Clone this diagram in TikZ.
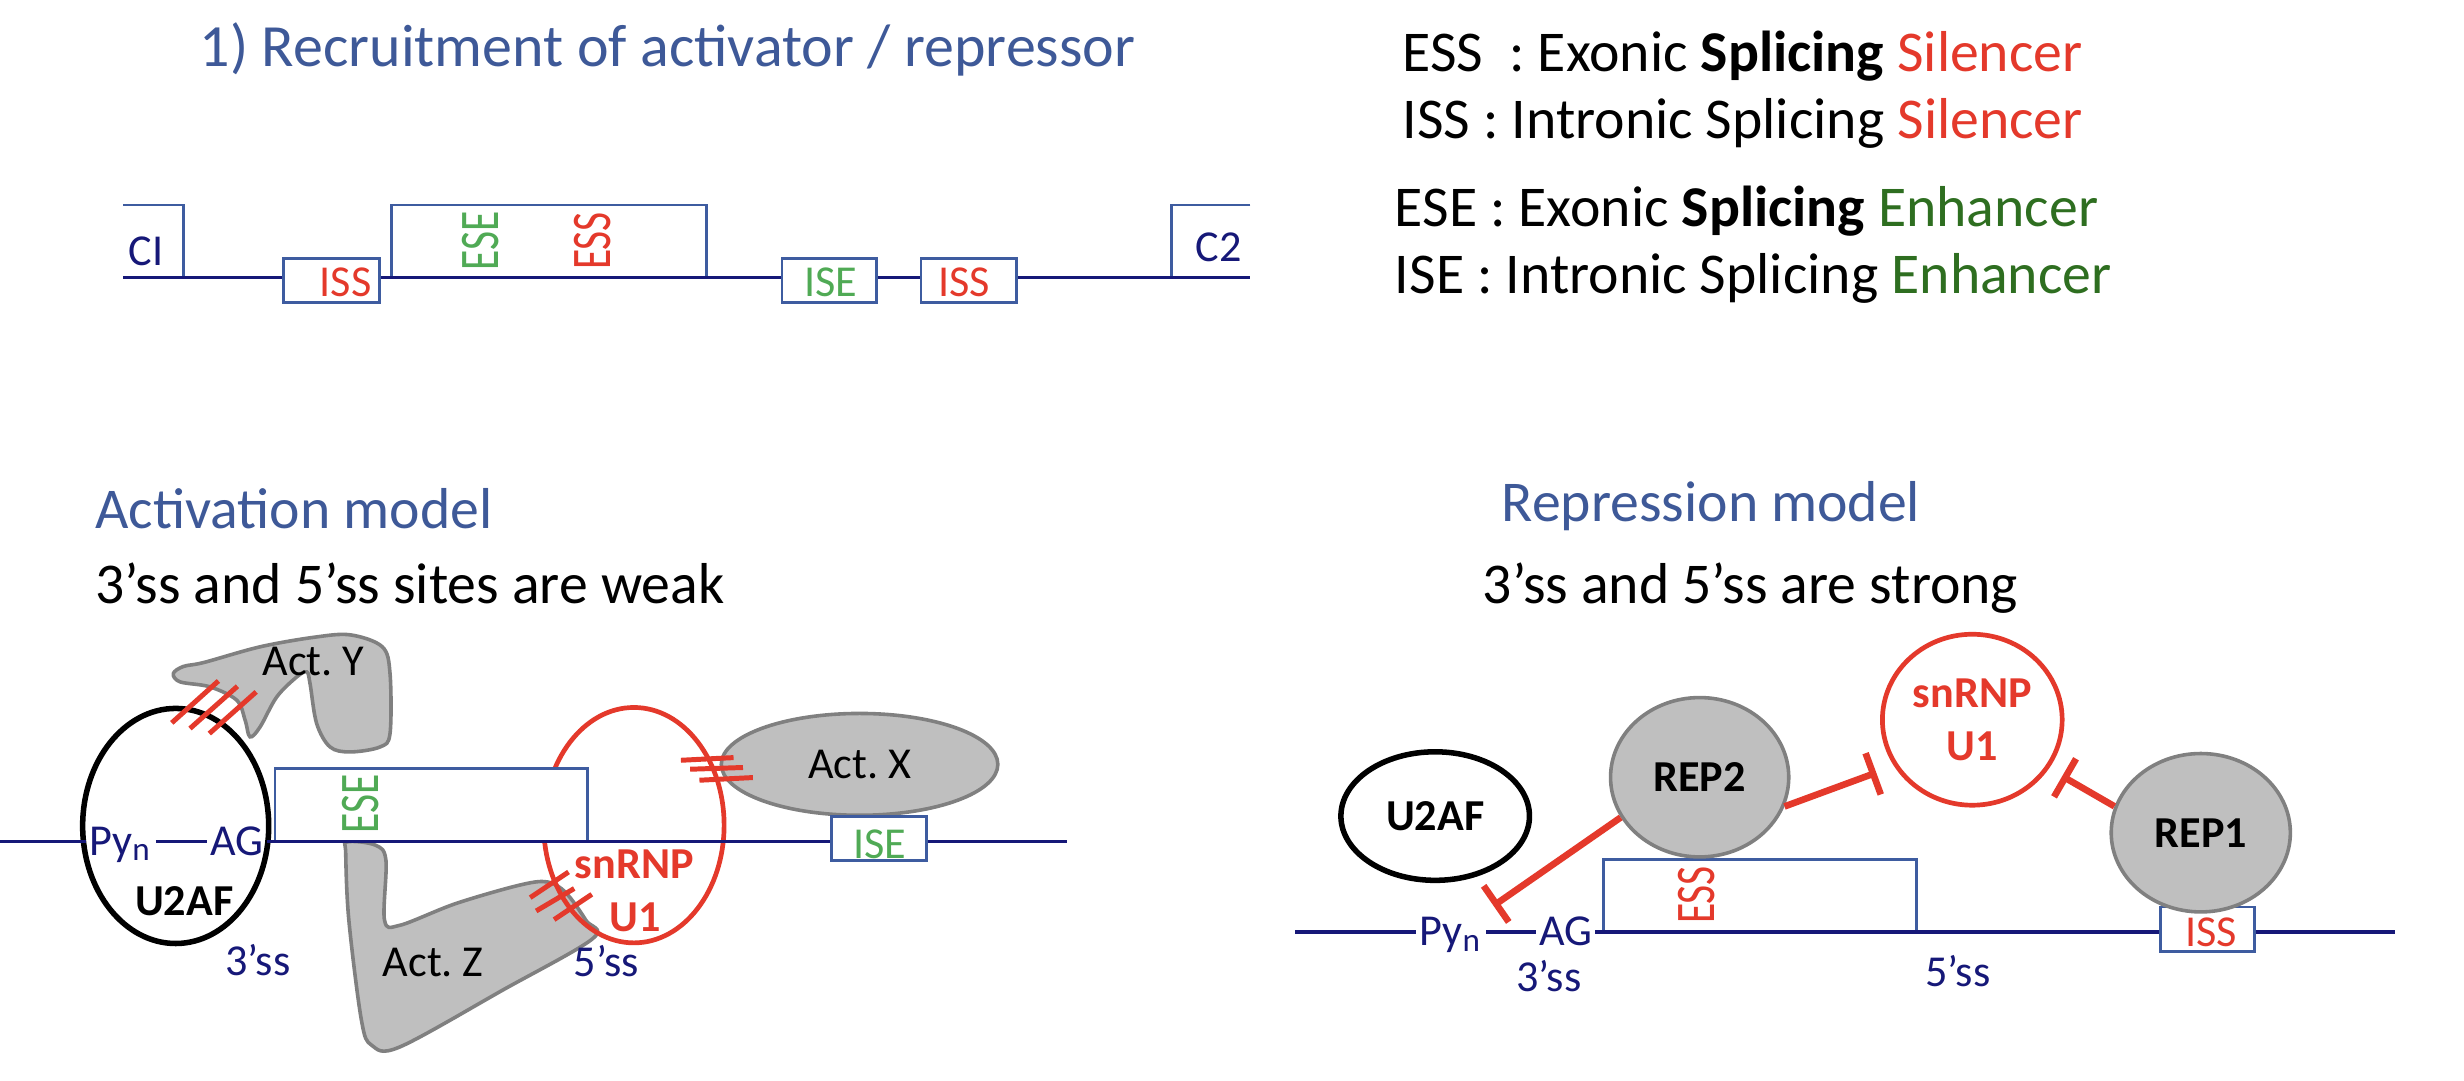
\documentclass[tikz,border=0pt]{standalone}
\usepackage{graphicx}
\usepackage{fontspec}
\setmainfont{Carlito}
\usetikzlibrary{shapes.geometric,arrows.meta}
\definecolor{hblue}{RGB}{62,89,152}
\definecolor{navy}{RGB}{22,24,120}
\definecolor{bxblue}{RGB}{62,92,160}
\definecolor{sred}{RGB}{228,57,43}
\definecolor{sgreen}{RGB}{80,170,85}
\definecolor{dgreen}{RGB}{46,110,32}
\definecolor{pgray}{RGB}{191,191,191}
\definecolor{egray}{RGB}{128,128,128}
\newcommand{\ttlsize}{\fontsize{10.85}{13}\selectfont}
\newcommand{\bigsize}{\fontsize{10.45}{12.5}\selectfont}
\newcommand{\smallsize}{\fontsize{8}{9.6}\selectfont}
\newcommand{\rotsize}{\fontsize{7.5}{9}\selectfont}
\newcommand{\tall}[1]{\scalebox{1}[1.35]{#1}}

\begin{document}
\begin{tikzpicture}[x=0.1mm,y=-0.1mm,
    big/.style={font=\bigsize,anchor=base west,inner sep=0pt},
    lbl/.style={font=\smallsize,anchor=base,inner sep=0pt},
    blbl/.style={font=\smallsize\bfseries,anchor=base,inner sep=0pt},
    vlbl/.style={font=\rotsize,rotate=90,anchor=base,inner sep=0pt},
    site/.style={font=\smallsize,text=navy,text height=5.06pt,text depth=0pt,inner sep=0.4pt},
    gene/.style={draw=navy,line width=0.6pt},
    bx/.style={draw=bxblue,fill=white,line width=0.5pt},
    bxl/.style={draw=bxblue,line width=0.5pt},
    prot/.style={ellipse,draw,inner sep=0pt,line width=1pt},
    act/.style={fill=pgray,draw=egray,line width=0.65pt},
    hash/.style={draw=sred,line width=0.9pt},
    inhib/.style={draw=sred,line width=1.2pt,-{Bar[width=2.8mm]}}]
  \fill[white] (0,0) rectangle (1568,687.3);
  \useasboundingbox (0,0) rectangle (1568,687.3);

  \node[big,font=\ttlsize,text=hblue] (ttl) at (126.5,42.4) {1) Recruitment of activator / repressor};
  \node[big] (lg1) at (891.9,45.6) {ESS\ \ : Exonic \textbf{Splicing} \textcolor{sred}{Silencer}};
  \node[big] (lg2) at (891.9,88) {ISS : Intronic Splicing \textcolor{sred}{Silencer}};
  \node[big] (lg3) at (887,144.3) {ESE : Exonic \textbf{Splicing} \textcolor{dgreen}{Enhancer}};
  \node[big] (lg4) at (887,186.7) {ISE : Intronic Splicing \textcolor{dgreen}{Enhancer}};

  \draw[bxl] (78.5,130.5) -- (116.7,130.5) -- (116.7,176.7);
  \draw[bxl] (795.7,130.5) -- (745.3,130.5) -- (745.3,176.7);
  \draw[bx] (249.3,130.5) rectangle (449.8,176.7);
  \coordinate (g0) at (78.5,176.7);
  \coordinate (g1) at (795.7,176.7);
  \draw[gene] (g0) -- (g1);
  \draw[bx] (180.3,164.4) rectangle (241.4,192.7);
  \draw[bx] (497.6,164.4) rectangle (558,192.7);
  \draw[bx] (586.1,164.4) rectangle (647.1,192.7);
  \node[lbl,text=navy] (c1) at (92.8,168.7) {CI};
  \node[lbl,text=navy] (c2) at (775.7,166.6) {C2};
  \node[lbl,text=sred] (iss1) at (220,188.8) {ISS};
  \node[lbl,text=sgreen] (ise1) at (528.6,188.8) {ISE};
  \node[lbl,text=sred] (iss2) at (613.5,188.8) {ISS};
  \node[vlbl,text=sgreen] (ese1) at (317.2,153.3) {\tall{ESE}};
  \node[vlbl,text=sred] (ess1) at (388.3,153.3) {\tall{ESS}};

  \node[big,text=hblue] (actm) at (60,336.3) {Activation model};
  \node[big] (actw) at (60,384) {3'ss and 5'ss sites are weak};
  \node[big,text=hblue] (repm) at (955,332) {Repression model};
  \node[big] (reps) at (943,384) {3'ss and 5'ss are strong};

  \draw[act] plot[smooth cycle,tension=0.55] coordinates {(110.3,428.6) (116.7,424.1) (130,421.5) (165.5,411.6) (200,405.5) (223,404) (243.3,411.6) (248.2,428.6) (248.2,466.8) (241.9,475.3) (222.8,478.5) (210,475.3) (201.5,460.4) (197.3,435) (195.2,427.6) (188.8,430.8) (176.1,443.5) (165.5,462.6) (159.1,468.9) (156,458.3) (150.7,445.6) (133.7,437.1) (114.6,433.9)};
  \draw[act] plot[smooth cycle,tension=0.55] coordinates {(221,535.7) (238.9,537.8) (245.6,547.4) (244.7,585.6) (254.5,588.8) (290,575) (330.4,563.3) (348.3,561.2) (360,568) (372.8,585.6) (377.3,597.2) (320,630) (254.5,666.2) (236.6,665.2) (230,649.2) (222,585.6) (220,543.1)};
  \node[prot,act,minimum width=17.6mm,minimum height=6.48mm,font=\smallsize] (actx) at (547,486.4) {Act.\ X};
  \node[prot,minimum width=11.84mm,minimum height=14.96mm] (u2a) at (111.8,525.6) {};
  \node[prot,draw=sred,line width=0.85pt,minimum width=11.48mm,minimum height=14.98mm] (snra) at (403.4,525.1) {};
  \draw[bx] (175,489) rectangle (373.7,535.3);
  \coordinate (a0) at (0,535.3);
  \coordinate (a1) at (678.7,535.3);
  \node[site] (pyna) at (77,535.3) {Py\textsubscript{n}};
  \node[site] (aga) at (150.7,535.3) {AG};
  \draw[gene] (a0) -- (pyna) -- (aga) -- (a1);
  \draw[bx] (529,519.4) rectangle (589.4,547.8);
  \node[lbl,text=sgreen] (ise2) at (560,546.3) {ISE};
  \node[vlbl,text=sgreen] (ese2) at (241.1,511.5) {\tall{ESE}};
  \node[blbl] (u2at) at (117.2,582.4) {U2AF};
  \node[lbl,text=navy] (ss3a) at (164,620.6) {3'ss};
  \node[lbl] (acty) at (199.5,429.7) {Act.\ Y};
  \node[lbl] (actz) at (275.7,621.6) {Act.\ Z};
  \node[blbl,text=sred] (snrt) at (403.6,559) {snRNP};
  \node[blbl,text=sred] (u1t) at (404,593) {U1};
  \node[lbl,text=navy] (ss5a) at (385.8,621.6) {5'ss};
  \draw[hash] (109.3,460) -- (139,433.3);
  \draw[hash] (120.9,463.6) -- (151.1,436.7);
  \draw[hash] (133.2,466.8) -- (163,440.3);
  \draw[hash] (433.3,483.8) -- (466.8,482.1);
  \draw[hash] (439.2,489.5) -- (472.8,488.4);
  \draw[hash] (445.1,496.5) -- (479.1,494.8);
  \draw[hash] (337.4,571.2) -- (361.8,554.9);
  \draw[hash] (341.2,579.7) -- (365.4,565.4);
  \draw[hash] (352.6,585.2) -- (376.6,569.1);

  \draw[bx] (1020.5,546.7) rectangle (1219.5,593);
  \coordinate (r0) at (824.4,593);
  \coordinate (r1) at (1523.8,593);
  \node[site] (pynb) at (923.4,593) {Py\textsubscript{n}};
  \node[site] (agb) at (996.3,593) {AG};
  \draw[gene] (r0) -- (pynb) -- (agb) -- (r1);
  \draw[bx] (1374.8,577.1) rectangle (1434.9,605.3);
  \node[lbl,text=sred] (iss3) at (1407,602.6) {ISS};
  \node[vlbl,text=sred] (ess2) at (1091.2,569.5) {\tall{ESS}};
  \node[lbl,text=navy] (ss3b) at (985.5,631.2) {3'ss};
  \node[lbl,text=navy] (ss5b) at (1245.8,628) {5'ss};
  \node[prot,minimum width=12mm,minimum height=8.18mm,font=\smallsize\bfseries] (u2b) at (913.3,519.3) {U2AF};
  \node[prot,act,minimum width=11.34mm,minimum height=10.14mm,font=\smallsize\bfseries] (rep2) at (1081.6,494.6) {REP2};
  \node[prot,draw=sred,text=sred,line width=0.85pt,minimum width=11.44mm,minimum height=10.88mm,font=\smallsize\bfseries,align=center] (u1b) at (1255.1,458) {snRNP\\U1};
  \node[prot,act,minimum width=11.4mm,minimum height=10.08mm,font=\smallsize\bfseries] (rep1) at (1400.5,529.9) {REP1};
  \coordinate (bar1) at (950.4,576.4);
  \coordinate (bar2) at (1194,491.7);
  \coordinate (bar3) at (1312.3,493.9);
  \draw[inhib] (rep2.207) -- (bar1);
  \draw[inhib] (rep2.-19) -- (bar2);
  \draw[inhib] (rep1.163) -- (bar3);
\end{tikzpicture}
\end{document}
